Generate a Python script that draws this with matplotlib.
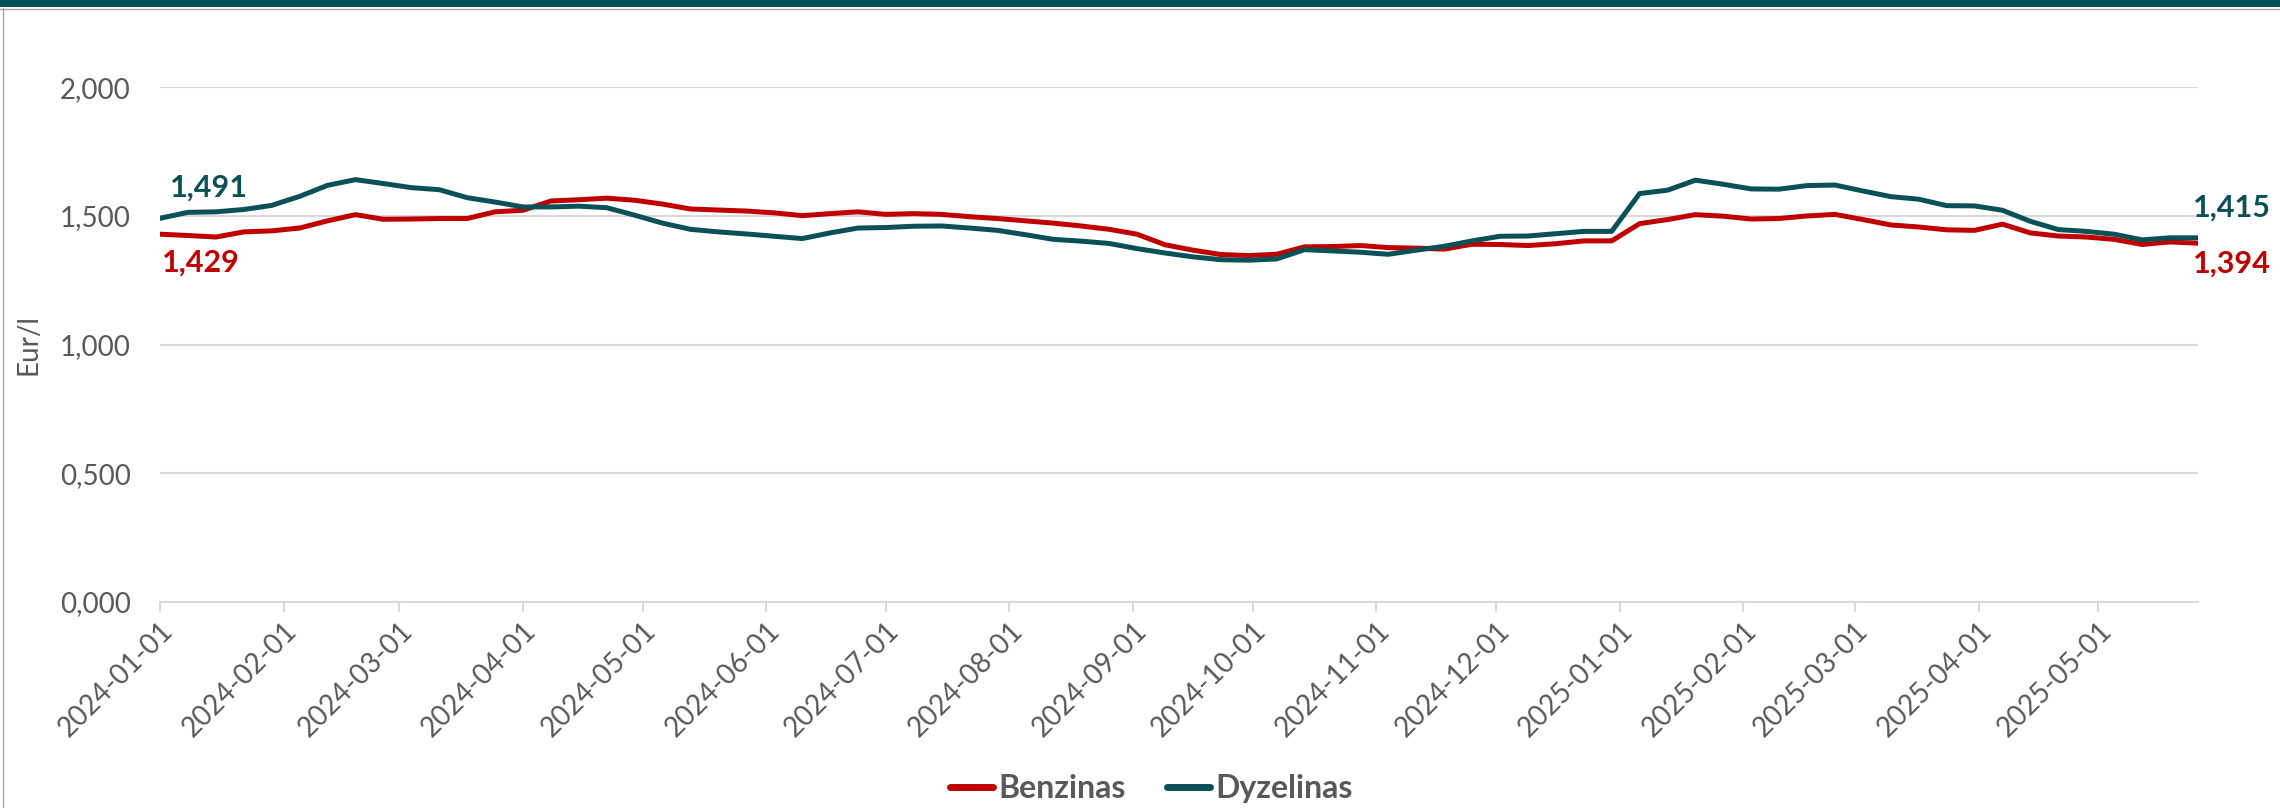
import pandas as pd
import matplotlib.pyplot as plt
import matplotlib.dates as mdates
from matplotlib.lines import Line2D
from matplotlib.ticker import FuncFormatter

plt.rcParams['font.family'] = ['Lato', 'DejaVu Sans']

# weekly prices, Eur/l
dates = pd.date_range('2024-01-01', periods=74, freq='7D')

benzinas = [1.429, 1.424, 1.418, 1.438, 1.442, 1.453, 1.481, 1.505, 1.487, 1.488,
            1.490, 1.490, 1.516, 1.522, 1.558, 1.563, 1.569, 1.561, 1.546, 1.527,
            1.523, 1.519, 1.512, 1.501, 1.509, 1.516, 1.506, 1.509, 1.506, 1.497,
            1.490, 1.481, 1.472, 1.461, 1.448, 1.429, 1.388, 1.367, 1.350, 1.346,
            1.351, 1.380, 1.381, 1.385, 1.377, 1.375, 1.371, 1.390, 1.389, 1.385,
            1.392, 1.403, 1.403, 1.470, 1.486, 1.505, 1.499, 1.488, 1.490, 1.500,
            1.506, 1.486, 1.465, 1.457, 1.446, 1.444, 1.468, 1.434, 1.422, 1.418,
            1.409, 1.389, 1.399, 1.394]

dyzelinas = [1.491, 1.514, 1.516, 1.525, 1.541, 1.576, 1.619, 1.641, 1.626, 1.610,
             1.602, 1.571, 1.554, 1.535, 1.535, 1.538, 1.532, 1.503, 1.472, 1.448,
             1.438, 1.430, 1.421, 1.412, 1.434, 1.453, 1.455, 1.460, 1.461, 1.453,
             1.444, 1.427, 1.409, 1.402, 1.393, 1.373, 1.356, 1.341, 1.330, 1.328,
             1.333, 1.369, 1.364, 1.359, 1.351, 1.367, 1.382, 1.403, 1.421, 1.422,
             1.431, 1.440, 1.440, 1.587, 1.600, 1.639, 1.623, 1.605, 1.604, 1.618,
             1.620, 1.597, 1.575, 1.565, 1.540, 1.539, 1.522, 1.479, 1.447, 1.440,
             1.429, 1.407, 1.415, 1.415]

RED = '#c00000'
TEAL = '#0a5057'
GREY = '#595959'
GRID = '#d9d9d9'

fig = plt.figure(figsize=(22.8, 8.08), dpi=100)
ax = fig.add_axes([0.0702, 0.255, 0.8938, 0.637])

ax.plot(dates, benzinas, color=RED, lw=3.6, label='Benzinas', solid_capstyle='round')
ax.plot(dates, dyzelinas, color=TEAL, lw=3.6, label='Dyzelinas', solid_capstyle='round')

ax.set_ylim(0, 2.0)
ax.set_xlim(dates[0], dates[-1])
ax.set_yticks([0, 0.5, 1.0, 1.5, 2.0])
ax.yaxis.set_major_formatter(FuncFormatter(lambda v, p: f'{v:.3f}'.replace('.', ',')))
ax.grid(axis='y', color=GRID, lw=1.5)
ax.set_axisbelow(True)

ax.xaxis.set_major_locator(mdates.MonthLocator())
ax.xaxis.set_major_formatter(mdates.DateFormatter('%Y-%m-%d'))
plt.setp(ax.get_xticklabels(), rotation=45, ha='right', rotation_mode='anchor')

for s in ['top', 'right', 'left']:
    ax.spines[s].set_visible(False)
ax.spines['bottom'].set_color(GRID)
ax.spines['bottom'].set_linewidth(1.5)

ax.tick_params(axis='x', colors=GRID, length=7, width=1.5, pad=4, labelcolor=GREY, labelsize=20)
ax.tick_params(axis='y', length=0, pad=21, labelcolor=GREY, labelsize=20)

ax.set_ylabel('Eur/l', fontsize=20, color=GREY)
ax.yaxis.set_label_coords(-0.058, 0.5)

# value labels at start and end
lab = dict(textcoords='offset pixels', fontsize=22, fontweight='bold', va='center', ha='left')
ax.annotate(f'{dyzelinas[0]:.3f}'.replace('.', ','), (dates[0], dyzelinas[0]),
            xytext=(10, 31), color=TEAL, **lab)
ax.annotate(f'{benzinas[0]:.3f}'.replace('.', ','), (dates[0], benzinas[0]),
            xytext=(2, -28), color=RED, **lab)
ax.annotate(f'{dyzelinas[-1]:.3f}'.replace('.', ','), (dates[-1], dyzelinas[-1]),
            xytext=(-5, 30), color=TEAL, **lab)
ax.annotate(f'{benzinas[-1]:.3f}'.replace('.', ','), (dates[-1], benzinas[-1]),
            xytext=(-5, -20), color=RED, **lab)

leg = fig.legend(loc='center', bbox_to_anchor=(0.505, 0.024), ncol=2, frameon=False,
                 handlelength=1.35, handletextpad=0.15, columnspacing=1.3,
                 prop={'weight': 'bold', 'size': 23})
for t in leg.get_texts():
    t.set_color(GREY)
for h in leg.get_lines():
    h.set_linewidth(5)
    h.set_solid_capstyle('round')

# top band and frame
fig.add_artist(plt.Rectangle((0, 1 - 7 / 808), 1, 7 / 808, transform=fig.transFigure,
                             color='#074f56', lw=0))
fig.add_artist(Line2D([0, 1], [1 - 8.5 / 808] * 2, color='#a6a6a6', lw=1))
fig.add_artist(Line2D([2.5 / 2280] * 2, [0, 1 - 8 / 808], color='#a6a6a6', lw=1))

fig.savefig('out.png', dpi=100)
